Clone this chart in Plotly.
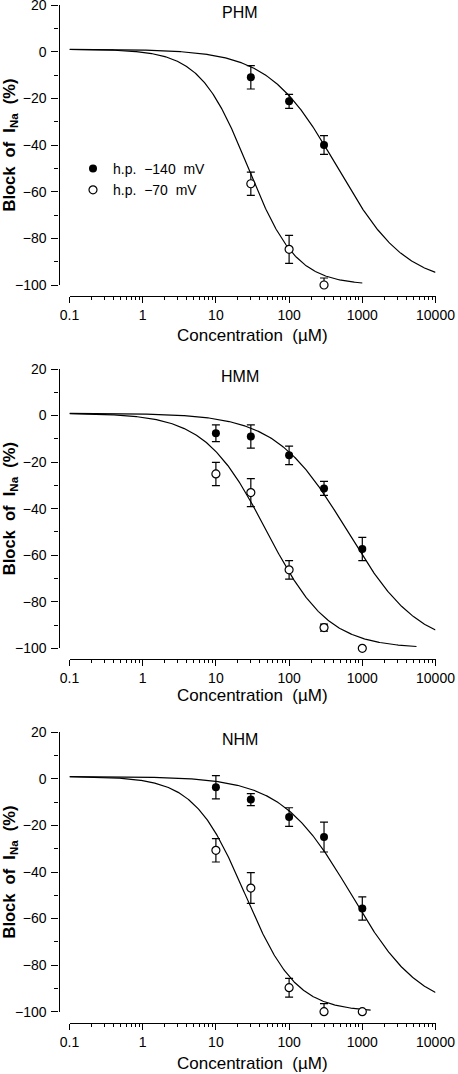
import numpy as np
import plotly.graph_objects as go

# ---------------- data ----------------
panel_titles = ["PHM", "HMM", "NHM"]
series_names = ["h.p.\u00a0 \u2212140\u00a0 mV", "h.p.\u00a0 \u221270\u00a0 mV"]

conc_phm = [30, 100, 300]
phm_140 = [-11.0, -21.3, -40.0]
phm_140_err_up = [5.0, 3.0, 4.0]
phm_140_err_dn = [5.0, 3.0, 4.0]
phm_70 = [-56.6, -84.7, -100.0]
phm_70_err_up = [5.0, 6.0, 3.0]
phm_70_err_dn = [5.0, 6.0, 0.0]

conc_hmm = [10, 30, 100, 300, 1000]
hmm_140 = [-7.6, -9.0, -17.1, -31.3, -57.3]
hmm_140_err_up = [3.6, 5.0, 4.0, 3.0, 5.0]
hmm_140_err_dn = [3.6, 5.0, 4.0, 3.0, 5.0]
hmm_70 = [-25.1, -33.1, -66.3, -91.1, -100.0]
hmm_70_err_up = [5.0, 6.0, 4.0, 1.5, 0.0]
hmm_70_err_dn = [5.0, 6.0, 4.0, 1.5, 0.0]

conc_nhm = [10, 30, 100, 300, 1000]
nhm_140 = [-3.6, -8.9, -16.4, -25.0, -55.7]
nhm_140_err_up = [5.0, 2.6, 4.0, 6.4, 5.0]
nhm_140_err_dn = [5.0, 2.6, 4.0, 6.4, 5.0]
nhm_70 = [-30.7, -46.9, -89.7, -100.0, -100.0]
nhm_70_err_up = [5.0, 6.6, 4.0, 3.5, 0.0]
nhm_70_err_dn = [5.0, 6.6, 4.0, 0.0, 0.0]

# Hill-fit parameters of the drawn curves: [h.p. -140, h.p. -70] per panel
fit_ic50 = [[455, 27.4], [620, 49], [700, 25]]
fit_hill = [[0.93, 1.32], [0.89, 1.03], [0.91, 1.25]]
fit_top = 1.0
fit_bottom = -100.0
fit_xmax = [[10000, 1000], [10000, 5500], [10000, 1300]]

x_tick_vals = [0.1, 1, 10, 100, 1000, 10000]
x_tick_text = ["0.1", "1", "10", "100", "1000", "10000"]
y_tick_vals = [-100, -80, -60, -40, -20, 0, 20]

panels = [
    (conc_phm, phm_140, phm_140_err_up, phm_140_err_dn, phm_70, phm_70_err_up, phm_70_err_dn),
    (conc_hmm, hmm_140, hmm_140_err_up, hmm_140_err_dn, hmm_70, hmm_70_err_up, hmm_70_err_dn),
    (conc_nhm, nhm_140, nhm_140_err_up, nhm_140_err_dn, nhm_70, nhm_70_err_up, nhm_70_err_dn),
]

# ---------------- layout geometry (pixels) ----------------
W, H = 458, 1074
FONT = "Liberation Sans, Arial, Helvetica, sans-serif"
top_px = [5.0, 369.0, 732.3]        # y = 20
bot_px = [285.0, 648.3, 1011.7]     # y = -100
xaxis_px = [296.0, 659.3, 1022.7]   # detached x axis line
xtitle_px = [335.0, 695.0, 1063.0]
x_left_px, x_right_px = 69.5, 435.5
yaxis_px = 58.5


def py(p):
    return 1 - p / H


def px(p):
    return p / W


def hill(x, ic50, n):
    return fit_bottom + (fit_top - fit_bottom) / (1 + (x / ic50) ** n)


fig = go.Figure()
annotations = []
layout_axes = {}

for i, (conc, d140, e140u, e140d, d70, e70u, e70d) in enumerate(panels):
    k = "" if i == 0 else str(i + 1)
    xa, ya = "x" + k, "y" + k

    # fitted curves
    for j in range(2):
        xs = np.logspace(-1, np.log10(fit_xmax[i][j]), 400)
        fig.add_trace(go.Scatter(
            x=xs, y=hill(xs, fit_ic50[i][j], fit_hill[i][j]), mode="lines",
            line=dict(color="black", width=1.2), showlegend=False,
            hoverinfo="skip", xaxis=xa, yaxis=ya))

    # data points
    fig.add_trace(go.Scatter(
        x=conc, y=d140, mode="markers", name=series_names[0],
        marker=dict(symbol="circle", size=8, color="black"),
        error_y=dict(type="data", symmetric=False, array=e140u, arrayminus=e140d,
                     color="black", thickness=1.2, width=4),
        showlegend=(i == 0), cliponaxis=False, xaxis=xa, yaxis=ya))
    fig.add_trace(go.Scatter(
        x=conc, y=d70, mode="markers", name=series_names[1],
        marker=dict(symbol="circle", size=8, color="white",
                    line=dict(color="black", width=1.2)),
        error_y=dict(type="data", symmetric=False, array=e70u, arrayminus=e70d,
                     color="black", thickness=1.2, width=4),
        showlegend=(i == 0), cliponaxis=False, xaxis=xa, yaxis=ya))

    layout_axes["xaxis" + k] = dict(
        type="log", range=[-1, 4], domain=[px(x_left_px), px(x_right_px)],
        anchor="free", position=py(xaxis_px[i]), automargin=False,
        showline=True, linecolor="black", linewidth=1.2,
        ticks="outside", ticklen=6, tickwidth=1.2, tickcolor="black",
        tickvals=x_tick_vals, ticktext=x_tick_text, ticklabeloverflow="allow",
        minor=dict(ticks="outside", ticklen=3, tickwidth=1, tickcolor="black",
                   dtick="D1", showgrid=False),
        showgrid=False, zeroline=False,
        tickfont=dict(family=FONT, size=14, color="black"))
    layout_axes["yaxis" + k] = dict(
        range=[-100, 20], domain=[py(bot_px[i]), py(top_px[i])],
        anchor="free", position=px(yaxis_px), automargin=False,
        showline=True, linecolor="black", linewidth=1.2,
        ticks="outside", ticklen=7, tickwidth=1.2, tickcolor="black",
        tickvals=y_tick_vals, ticklabeloverflow="allow",
        minor=dict(ticks="outside", ticklen=4, tickwidth=1, tickcolor="black",
                   dtick=10, showgrid=False),
        showgrid=False, zeroline=False, ticklabelstandoff=2,
        tickfont=dict(family=FONT, size=14, color="black"))

    # panel title
    annotations.append(dict(
        text=panel_titles[i], x=px(240), y=py(top_px[i] + 7.5),
        xref="paper", yref="paper", xanchor="center", yanchor="middle",
        showarrow=False, font=dict(family=FONT, size=16, color="black")))
    # x title
    annotations.append(dict(
        text="Concentration\u00a0 (\u00b5M)", x=px(252.5), y=py(xtitle_px[i]),
        xref="paper", yref="paper", xanchor="center", yanchor="middle",
        showarrow=False, font=dict(family=FONT, size=17, color="black")))
    # y title
    annotations.append(dict(
        text="<b>Block\u00a0 of\u00a0 I<sub>Na</sub>\u00a0 (%)</b>", x=px(9.5),
        y=py((top_px[i] + bot_px[i]) / 2),
        xref="paper", yref="paper", xanchor="center", yanchor="middle",
        textangle=-90, showarrow=False,
        font=dict(family=FONT, size=16.5, color="black")))

fig.update_layout(
    template="none",
    width=W, height=H, margin=dict(l=0, r=0, t=0, b=0, pad=0, autoexpand=False),
    paper_bgcolor="white", plot_bgcolor="white",
    showlegend=True,
    legend=dict(x=px(73), y=py(153), xanchor="left", yanchor="top",
                bgcolor="rgba(0,0,0,0)", font=dict(family=FONT, size=14, color="black"),
                tracegroupgap=0),
    annotations=annotations,
    **layout_axes)

fig.write_html(
    "out.html",
    config={"displayModeBar": False},
    post_script="document.body.style.margin='0px';document.body.style.overflow='hidden';")
